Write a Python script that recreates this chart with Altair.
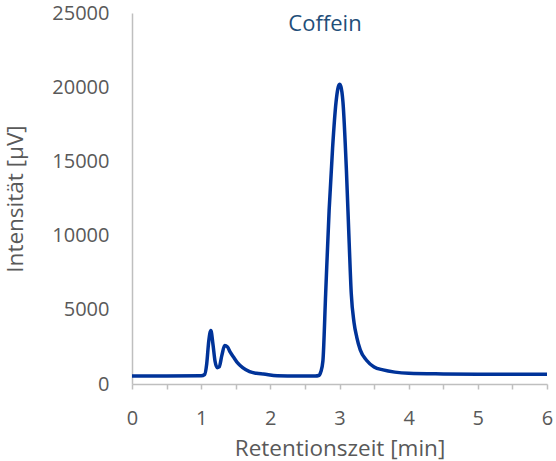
import altair as alt
import pandas as pd

zeit = [0, 0.5, 1.0, 1.05, 1.08, 1.11, 1.14, 1.17, 1.2, 1.23, 1.26, 1.3, 1.34, 1.38,
        1.42, 1.47, 1.53, 1.6, 1.7, 1.8, 1.9, 2.1, 2.4, 2.65, 2.7, 2.73, 2.76, 2.8,
        2.85, 2.9, 2.95, 3.0, 3.02, 3.05, 3.1, 3.14, 3.17, 3.21, 3.25, 3.3, 3.39,
        3.5, 3.63, 3.8, 4.0, 4.5, 5.0, 5.5, 6.0]
intensitaet = [540, 540, 550, 640, 1350, 2900, 3600, 2700, 1550, 1100, 1150, 1950,
               2600, 2500, 2150, 1800, 1400, 1100, 830, 720, 670, 560, 540, 540, 570,
               820, 1550, 6100, 11700, 15900, 19000, 20200, 20050, 19000, 14400, 9500,
               6100, 4150, 3150, 2300, 1600, 1150, 950, 800, 720, 680, 660, 650, 650]

x_ticks = [0, 0.5, 1, 1.5, 2, 2.5, 3, 3.5, 4, 4.5, 5, 5.5, 6]
y_ticks = [0, 5000, 10000, 15000, 20000, 25000]
titel = ["Coffein"]

df = pd.DataFrame({"t": zeit, "I": intensitaet})

FONT = "Open Sans"
GRAY = "#595959"

line = alt.Chart(df).mark_line(
    color="#003399", strokeWidth=3.5, interpolate="monotone"
).encode(
    x=alt.X("t:Q", scale=alt.Scale(domain=[0, 6], nice=False),
            axis=alt.Axis(title="Retentionszeit [min]", values=x_ticks,
                          labelExpr="datum.value % 1 == 0 ? format(datum.value, 'd') : ''",
                          grid=False, domainColor="#BFBFBF", tickColor="#BFBFBF",
                          tickSize=5, labelPadding=19, titlePadding=9,
                          labelFont=FONT, titleFont=FONT, labelFontSize=20,
                          titleFontSize=22.5, titleFontWeight="normal",
                          labelColor=GRAY, titleColor=GRAY, domainWidth=1.5,
                          tickWidth=1.5, labelFlush=False, labelOverlap=False)),
    y=alt.Y("I:Q", scale=alt.Scale(domain=[0, 25000], nice=False),
            axis=alt.Axis(title="Intensität [µV]", values=y_ticks, format="d",
                          grid=False, ticks=False, domainColor="#BFBFBF",
                          labelPadding=23, titlePadding=24,
                          labelFont=FONT, titleFont=FONT, labelFontSize=20,
                          titleFontSize=22.5, titleFontWeight="normal",
                          labelColor=GRAY, titleColor=GRAY, domainWidth=1.5)),
)

title = alt.Chart(pd.DataFrame({"label": titel})).mark_text(
    font=FONT, fontSize=22, color="#1F4E79", align="center", baseline="alphabetic"
).encode(text="label:N", x=alt.value(193), y=alt.value(18))

chart = alt.layer(line, title).properties(
    width=415, height=371,
    autosize=alt.AutoSizeParams(type="none"),
    padding={"left": 132, "top": 13, "right": 9, "bottom": 77},
).configure_view(stroke=None)

chart.save("out.html", embed_options={"renderer": "svg", "actions": False})
